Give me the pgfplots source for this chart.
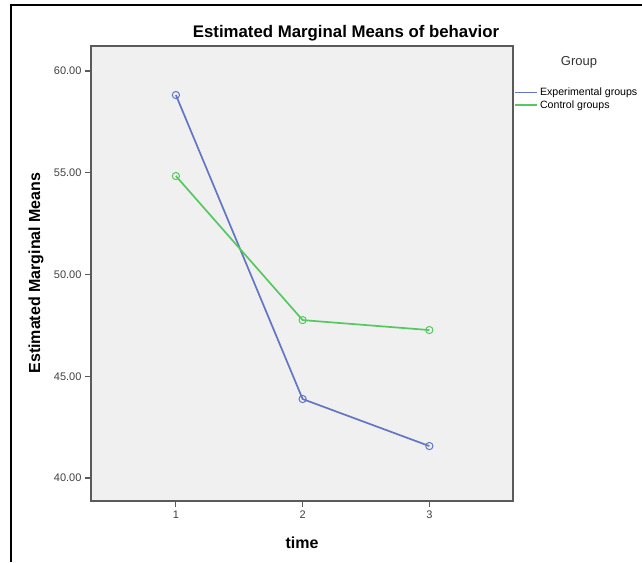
\documentclass[border=0pt]{standalone}
\usepackage{pgfplots}
\pgfplotsset{compat=1.18}
\usepackage{fontspec}
\setmainfont{Liberation Sans}
\definecolor{expblue}{RGB}{98,118,196}
\definecolor{ctrlgreen}{RGB}{86,200,96}
\definecolor{plotbg}{RGB}{240,240,240}
\definecolor{axisgray}{RGB}{90,90,90}

\begin{document}
\begin{tikzpicture}[x=1pt,y=1pt]
\path[use as bounding box] (0,0) rectangle (642,562);
\draw[black, line width=1.2pt] (11,0) -- (11,557) -- (642,557);
\begin{axis}[
  at={(91pt,61pt)}, anchor=south west,
  scale only axis, width=422pt, height=455pt,
  xmin=0.33, xmax=3.66, ymin=38.87, ymax=61.23,
  axis background/.style={fill=plotbg},
  axis line style={axisgray, line width=1.3pt},
  xtick={1,2,3}, ytick={40,45,50,55,60},
  tick align=outside, tick pos=left,
  major tick length=6pt,
  tick style={axisgray, line width=1.1pt},
  /pgf/number format/assume math mode=true,
  yticklabel style={/pgf/number format/.cd, fixed, fixed zerofill, precision=2},
  ticklabel style={font=\fontsize{11}{13}\selectfont, text=black!75},
  legend style={at={(axis description cs:1.003,0.913)}, anchor=north west,
    draw=none, fill=none, font=\fontsize{10.6}{12.5}\selectfont,
    row sep=-0.5pt, inner sep=0pt},
  legend cell align=left,
  legend image code/.code={\draw[#1, line width=1.6pt] (0pt,0pt) -- (22pt,0pt);},
  clip=false,
]
\addplot[expblue, line width=1.7pt, mark=o, mark size=3.6pt, mark options={line width=1pt}] coordinates {
  (1,58.82) (2,43.88) (3,41.57)
};
\addlegendentry{Experimental groups}
\addplot[ctrlgreen, line width=1.7pt, mark=o, mark size=3.6pt, mark options={line width=1pt}] coordinates {
  (1,54.84) (2,47.76) (3,47.27)
};
\addlegendentry{Control groups}
\end{axis}
\node[font=\bfseries\fontsize{16.8}{19}\selectfont] at (346,529) {Estimated Marginal Means of behavior};
\node[font=\fontsize{13}{15}\selectfont, text=black!80] at (579,500) {Group};
\node[font=\bfseries\fontsize{16}{18}\selectfont] at (302,19) {time};
\node[font=\bfseries\fontsize{16}{18}\selectfont, rotate=90] at (36,289) {Estimated Marginal Means};
\end{tikzpicture}
\end{document}
